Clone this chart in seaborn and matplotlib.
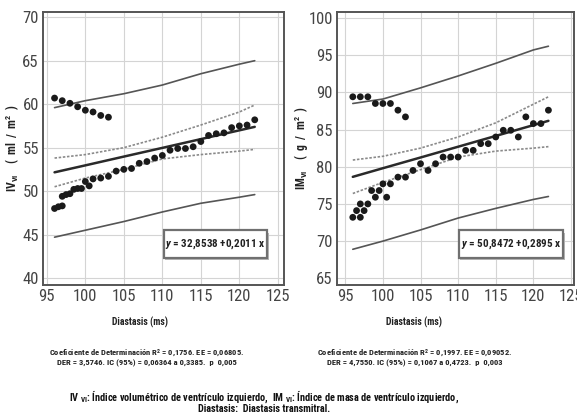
import numpy as np
import pandas as pd
import matplotlib
matplotlib.use("Agg")
import matplotlib.pyplot as plt
import seaborn as sns
from matplotlib import font_manager
from matplotlib.patches import Rectangle

# ---------------- data ----------------
# Left panel: IV_VI vs Diastasis
iv_x = [96, 96.5, 97, 97, 97.5, 98, 98.5, 99, 99.5, 100, 100.5, 101, 102, 103, 104, 105, 106,
        107, 108, 109, 110, 111, 112, 113, 114, 115, 116, 117, 118, 119, 120, 121, 122]
iv_y = [48.0, 48.2, 48.3, 49.4, 49.6, 49.7, 50.2, 50.3, 50.3, 51.1, 50.6, 51.4, 51.5, 51.7, 52.3,
        52.5, 52.6, 53.2, 53.4, 53.8, 54.1, 54.7, 54.9, 54.9, 55.1, 55.7, 56.4, 56.6, 56.7, 57.3,
        57.5, 57.6, 58.2]
iv_out_x = [96, 97, 98, 99, 100, 101, 102, 103]
iv_out_y = [60.7, 60.4, 60.1, 59.7, 59.3, 59.1, 58.7, 58.5]

# Right panel: IM_VI vs Diastasis
im_x = [96, 96.5, 97, 97, 97.5, 98, 98.5, 99, 99.5, 100, 100.5, 101, 102, 103, 104, 105, 106,
        107, 108, 109, 110, 111, 112, 113, 114, 115, 116, 117, 118, 119, 120, 121, 122]
im_y = [73.2, 74.1, 75.0, 73.2, 74.1, 75.0, 76.8, 75.9, 76.8, 77.7, 75.9, 77.7, 78.6, 78.6, 79.5,
        80.4, 79.5, 80.4, 81.3, 81.3, 81.3, 82.2, 82.2, 83.1, 83.1, 84.0, 84.9, 84.9, 84.0, 86.7,
        85.8, 85.8, 87.6]
im_out_x = [96, 97, 98, 99, 100, 101, 102, 103]
im_out_y = [89.4, 89.4, 89.4, 88.5, 88.5, 88.5, 87.6, 86.7]

# band curves
band_x = [96, 100, 105, 110, 115, 120, 122]
iv_fit = [52.16, 52.96, 53.97, 54.97, 55.98, 56.99, 57.39]
iv_ci_up = [53.8, 54.2, 55.0, 56.2, 57.6, 59.1, 59.9]
iv_ci_lo = [50.5, 51.5, 52.5, 53.7, 54.2, 54.6, 54.8]
iv_pi_up = [59.6, 60.4, 61.2, 62.2, 63.5, 64.6, 65.0]
iv_pi_lo = [44.7, 45.5, 46.5, 47.6, 48.6, 49.3, 49.6]

im_fit = [78.64, 79.80, 81.24, 82.69, 84.14, 85.59, 86.17]
im_ci_up = [80.9, 81.4, 82.5, 84.0, 85.9, 88.4, 89.4]
im_ci_lo = [76.4, 77.9, 79.6, 81.3, 82.1, 82.5, 82.7]
im_pi_up = [88.5, 89.1, 90.6, 92.2, 93.9, 95.7, 96.2]
im_pi_lo = [68.9, 70.0, 71.5, 73.1, 74.4, 75.6, 76.0]

x_ticks = [95, 100, 105, 110, 115, 120, 125]
iv_ticks = [40, 45, 50, 55, 60, 65, 70]
im_ticks = [65, 70, 75, 80, 85, 90, 95, 100]

iv_eq = "y = 32,8538 +0,2011 x"
im_eq = "y = 50,8472 +0,2895 x"
iv_ylabel = "IV$_{\\mathbf{VI}}$    (  ml  /  m$^{\\mathbf{2}}$  )"
im_ylabel = "IM$_{\\mathbf{VI}}$    (  g  /  m$^{\\mathbf{2}}$  )"
xlabel = "Diastasis (ms)"
iv_stats = ["Coeficiente de Determinación R$^{\\mathbf{2}}$ = 0,1756. EE = 0,06805.",
            "DER = 3,5746. IC (95%) = 0,06364 a 0,3385.  p  0,005"]
im_stats = ["Coeficiente de Determinación R$^{\\mathbf{2}}$ = 0,1997. EE = 0,09052.",
            "DER = 4,7550. IC (95%) = 0,1067 a 0,4723.  p  0,003"]
caption = ["IV $_{\\mathbf{VI}}$: Índice volumétrico de ventrículo izquierdo,  IM $_{\\mathbf{VI}}$: Índice de masa de ventrículo izquierdo,",
           "Diastasis:  Diastasis transmitral."]

# ---------------- style ----------------
sns.set_theme(style="whitegrid")
names = {f.name for f in font_manager.fontManager.ttflist}
narrow = next((n for n in ["Liberation Sans Narrow", "Arial Narrow", "Roboto Condensed",
                           "PT Sans Narrow", "Archivo Narrow", "Barlow Condensed"]
               if n in names), "DejaVu Sans")
plt.rcParams["font.family"] = [narrow, "DejaVu Sans"]
plt.rcParams["mathtext.fontset"] = "custom"
plt.rcParams["mathtext.rm"] = narrow
plt.rcParams["mathtext.bf"] = narrow + ":bold"
plt.rcParams["mathtext.it"] = narrow + ":italic:bold"

fig = plt.figure(figsize=(5.77, 4.2), dpi=100)
fig.patch.set_facecolor("white")

W, H = 577, 420
def axrect(l, t, r, b):
    return [l / W, 1 - b / H, (r - l) / W, (b - t) / H]

ax1 = fig.add_axes(axrect(43, 12, 284, 285))
ax2 = fig.add_axes(axrect(337, 12, 574, 285))

def draw(ax, xs, ys, oxs, oys, fit, ciu, cil, piu, pil, xlim, ylim, yticks, eq, box):
    pts = pd.DataFrame({"x": list(xs) + list(oxs), "y": list(ys) + list(oys)})
    sns.scatterplot(data=pts, x="x", y="y", ax=ax, color="#1a1a1a", s=24,
                    edgecolor="none", zorder=5)
    bands = pd.DataFrame({"x": band_x, "fit": fit, "ciu": ciu, "cil": cil,
                          "piu": piu, "pil": pil})
    sns.lineplot(data=bands, x="x", y="fit", ax=ax, color="#2a2a2a", lw=1.8, zorder=4)
    for c in ["ciu", "cil"]:
        sns.lineplot(data=bands, x="x", y=c, ax=ax, color="#8a8a8a", lw=1.2,
                     linestyle=(0, (1.5, 1)), zorder=3)
    for c in ["piu", "pil"]:
        sns.lineplot(data=bands, x="x", y=c, ax=ax, color="#555555", lw=1.2, zorder=3)
    ax.set_xlim(*xlim)
    ax.set_ylim(*ylim)
    ax.set_xticks(x_ticks)
    ax.set_yticks(yticks)
    ax.set_xlabel("")
    ax.set_ylabel("")
    ax.grid(True, color="#d4d4d4", lw=0.8)
    ax.set_facecolor("white")
    for s in ax.spines.values():
        s.set_color("#555555")
        s.set_linewidth(1.4)
    ax.tick_params(axis="both", labelsize=12, colors="#444444", length=0, pad=3)
    # equation box with shadow
    x0, y0, w, h = box
    ax.add_patch(Rectangle((x0 + 0.006, y0 - 0.01), w, h, transform=ax.transAxes,
                           facecolor="#b8b8b8", edgecolor="none", zorder=6))
    ax.add_patch(Rectangle((x0, y0), w, h, transform=ax.transAxes,
                           facecolor="white", edgecolor="#707070", lw=1.6, zorder=7))
    ax.text(x0 + w / 2, y0 + h / 2, "$\\mathit{y}$" + eq[1:], transform=ax.transAxes,
            ha="center", va="center", fontsize=8, fontweight="bold", color="#222222",
            zorder=8)

draw(ax1, iv_x, iv_y, iv_out_x, iv_out_y, iv_fit, iv_ci_up, iv_ci_lo, iv_pi_up, iv_pi_lo,
     (94.5, 125.8), (39.2, 70.6), iv_ticks, iv_eq, (0.50, 0.10, 0.43, 0.10))
draw(ax2, im_x, im_y, im_out_x, im_out_y, im_fit, im_ci_up, im_ci_lo, im_pi_up, im_pi_lo,
     (93.9, 125.4), (64.1, 100.8), im_ticks, im_eq, (0.515, 0.10, 0.44, 0.10))

# y labels
fig.text(12 / W, 1 - 148 / H, iv_ylabel, rotation=90, ha="center", va="center",
         fontsize=8.5, fontweight="bold", color="#222222")
fig.text(302 / W, 1 - 148 / H, im_ylabel, rotation=90, ha="center", va="center",
         fontsize=8.5, fontweight="bold", color="#222222")

# x labels
fig.text(140 / W, 1 - 322 / H, xlabel, ha="center", va="center", fontsize=7,
         fontweight="bold", color="#222222")
fig.text(414 / W, 1 - 322 / H, xlabel, ha="center", va="center", fontsize=7,
         fontweight="bold", color="#222222")

# stats
for i, line in enumerate(iv_stats):
    fig.text(147 / W, 1 - (353 + 10 * i) / H, line, ha="center", va="center",
             fontsize=6.1, fontweight="bold", color="#222222")
for i, line in enumerate(im_stats):
    fig.text(415 / W, 1 - (353 + 10 * i) / H, line, ha="center", va="center",
             fontsize=6.1, fontweight="bold", color="#222222")

# caption
for i, line in enumerate(caption):
    fig.text(264 / W, 1 - (397 + 12 * i) / H, line, ha="center", va="center",
             fontsize=7.4, fontweight="bold", color="#111111")

fig.savefig("out.png", dpi=100, facecolor="white")
